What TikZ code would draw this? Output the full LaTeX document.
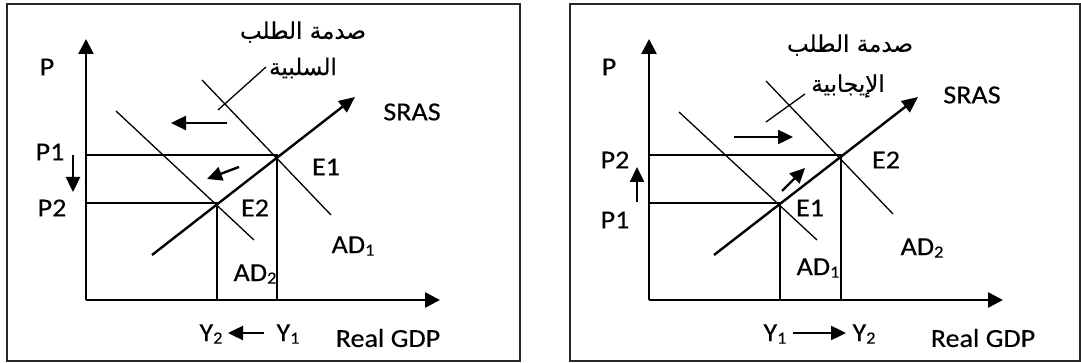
\documentclass[tikz,border=0pt]{standalone}
\usepackage{fontspec}
\setmainfont{Carlito}[FakeStretch=1.08,FakeBold=0.3]
\newfontfamily\arabicfont[Script=Arabic,FakeBold=0.4]{DejaVu Sans}
\TeXXeTstate=1
\usetikzlibrary{arrows.meta}
\newcommand\subdig[1]{\raisebox{-2.5pt}{\fontsize{17}{20}\selectfont #1}}
\begin{document}
\begin{tikzpicture}[x=1pt,y=-1pt,
  frame/.style={draw=black!85,line width=1.5pt},
  axis/.style={line width=2.6pt,-{Triangle[length=15pt,width=15pt]}},
  supply/.style={line width=2.4pt,-{Triangle[length=16pt,width=14pt]}},
  curve/.style={line width=1.3pt},
  guide/.style={line width=1.3pt},
  move/.style={line width=2.4pt,-{Triangle[length=15pt,width=14pt]}},
  lbl/.style={inner sep=0pt,font=\fontsize{26}{30}\selectfont},
  ar/.style={inner sep=0pt,font=\arabicfont\fontsize{23}{28}\selectfont}]
\useasboundingbox (0,0) rectangle (1081,363);
% frames
\draw[frame] (7,4) rectangle (520,361);
\draw[frame] (570,4) rectangle (1080,361);

% ================= LEFT PANEL =================
\coordinate (LO) at (86,300);
\coordinate (LYt) at (86,39);
\coordinate (LXt) at (440,300);
\coordinate (LE1) at (277,155);
\coordinate (LE2) at (217,203);
\coordinate (LSa) at (152,255);
\coordinate (LSb) at (355,97);
\coordinate (LD1a) at (202,80);
\coordinate (LD1b) at (331,215);
\coordinate (LD2a) at (116,111);
\coordinate (LD2b) at (254,240);
\coordinate (LLa) at (218,110);
\coordinate (LLb) at (266,67);
\draw[guide] (LO |- LE1) -- (LE1) -- (LE1 |- LO);
\draw[guide] (LO |- LE2) -- (LE2) -- (LE2 |- LO);
\draw[curve] (LD1a) -- (LD1b);
\draw[curve] (LD2a) -- (LD2b);
\draw[curve] (LLa) -- (LLb);
\draw[supply] (LSa) -- (LSb);
\draw[axis] (LO) -- (LYt);
\draw[axis] (LO) -- (LXt);

\node[lbl] (LP) at (47,67) {P};
\node[lbl] (LP1) at (50,152) {P1};
\node[lbl] (LP2) at (52,208) {P2};
\node[lbl] (LE1t) at (326,167) {E1};
\node[lbl] (LE2t) at (255,208) {E2};
\node[lbl] (LAD1) at (353,246) {AD\subdig{1}};
\node[lbl] (LAD2) at (255,274) {AD\subdig{2}};
\node[lbl] (LSRAS) at (412,112) {SRAS};
\node[lbl] (LGDP) at (388,338) {Real GDP};
\node[lbl] (LY2) at (211,334) {Y\subdig{2}};
\node[lbl] (LY1) at (288,334) {Y\subdig{1}};
\node[ar] (LT1) at (303,32) {\beginR صدمة الطلب\endR};
\node[ar] (LT2) at (303,68) {\beginR السلبية\endR};

\coordinate (LPa) at (73,155);
\coordinate (LPb) at (73,192);
\draw[move] (LPa) -- (LPb);
\coordinate (LHa) at (227,123);
\coordinate (LHb) at (171,123);
\draw[move] (LHa) -- (LHb);
\coordinate (LDa) at (239,167);
\coordinate (LDb) at (207,179);
\draw[move] (LDa) -- (LDb);
\coordinate (LYa) at (264,333);
\coordinate (LYb) at (228,333);
\draw[move] (LYa) -- (LYb);

% ================= RIGHT PANEL =================
\coordinate (RO) at (649,300);
\coordinate (RYt) at (649,39);
\coordinate (RXt) at (1003,300);
\coordinate (RE1) at (780,203);
\coordinate (RE2) at (841,155);
\coordinate (RSa) at (714,255);
\coordinate (RSb) at (918,97);
\coordinate (RD1a) at (679,112);
\coordinate (RD1b) at (817,240);
\coordinate (RD2a) at (766,81);
\coordinate (RD2b) at (893,214);
\coordinate (RLa) at (766,122);
\coordinate (RLb) at (805,94);
\draw[guide] (RO |- RE1) -- (RE1) -- (RE1 |- RO);
\draw[guide] (RO |- RE2) -- (RE2) -- (RE2 |- RO);
\draw[curve] (RD1a) -- (RD1b);
\draw[curve] (RD2a) -- (RD2b);
\draw[curve] (RLa) -- (RLb);
\draw[supply] (RSa) -- (RSb);
\draw[axis] (RO) -- (RYt);
\draw[axis] (RO) -- (RXt);

\node[lbl] (RP) at (609,67) {P};
\node[lbl] (RP2) at (615,160) {P2};
\node[lbl] (RP1) at (615,220) {P1};
\node[lbl] (RE2t) at (886,160) {E2};
\node[lbl] (RE1t) at (810,208) {E1};
\node[lbl] (RAD2) at (922,248) {AD\subdig{2}};
\node[lbl] (RAD1) at (818,268) {AD\subdig{1}};
\node[lbl] (RSRAS) at (972,95) {SRAS};
\node[lbl] (RGDP) at (983,338) {Real GDP};
\node[lbl] (RY1) at (775,334) {Y\subdig{1}};
\node[lbl] (RY2) at (864,334) {Y\subdig{2}};
\node[ar] (RT1) at (850,45) {\beginR صدمة الطلب\endR};
\node[ar] (RT2) at (848,86) {\beginR الإيجابية\endR};

\coordinate (RPa) at (637,202);
\coordinate (RPb) at (637,167);
\draw[move] (RPa) -- (RPb);
\coordinate (RHa) at (734,137);
\coordinate (RHb) at (793,137);
\draw[move] (RHa) -- (RHb);
\coordinate (RDa) at (782,191);
\coordinate (RDb) at (805,168);
\draw[move] (RDa) -- (RDb);
\coordinate (RYa) at (793,333);
\coordinate (RYb) at (846,333);
\draw[move] (RYa) -- (RYb);
\end{tikzpicture}
\end{document}
